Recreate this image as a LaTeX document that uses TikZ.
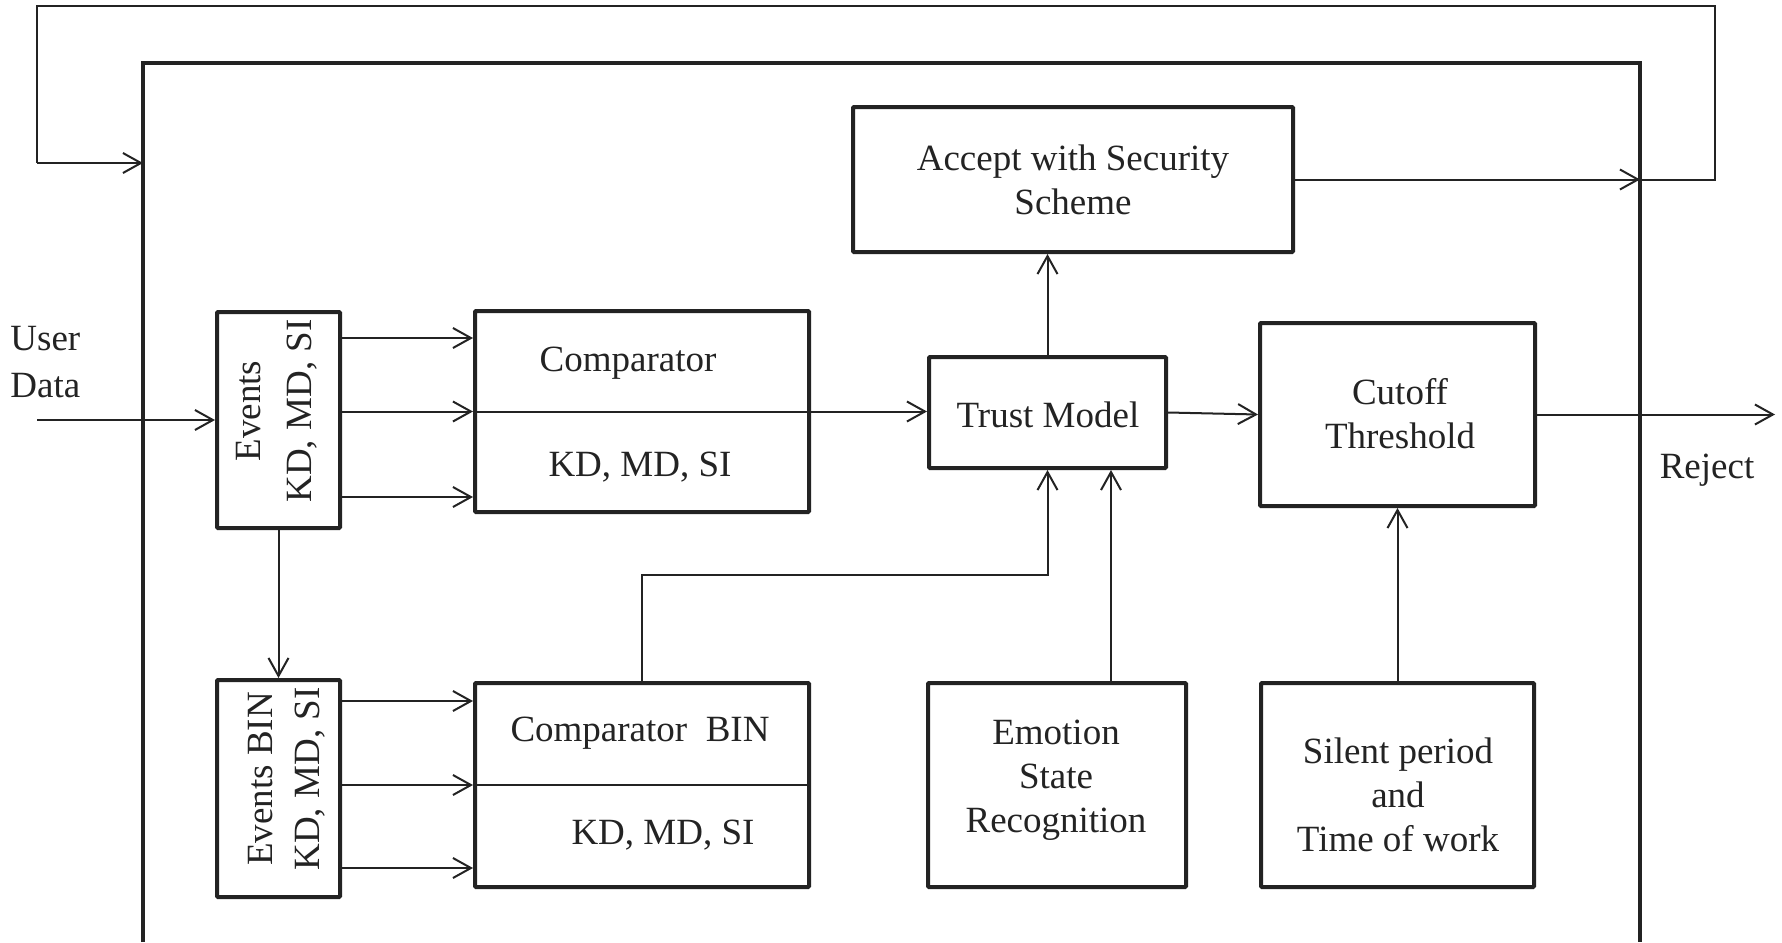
\documentclass[tikz,border=0pt]{standalone}
\usepackage{fontspec}
\setmainfont{Liberation Serif}
\usetikzlibrary{arrows.meta}
\definecolor{ink}{RGB}{35,35,35}
\begin{document}
\begin{tikzpicture}[x=0.5pt,y=-0.5pt,
  every node/.style={text=ink, font=\fontsize{18.5}{22}\selectfont},
  blk/.style={draw=ink, line width=2pt, inner sep=0pt, rounded corners=0.5pt},
  frame/.style={draw=ink, line width=2pt},
  conn/.style={draw=ink, line width=1pt},
  arr/.style={conn, -{Straight Barb[length=9pt,width=10pt]}},
  lbl/.style={align=center, inner sep=0pt},
]
\useasboundingbox (0,0) rectangle (1782,942);

% outer frame (open at the bottom)
\draw[frame] (143,942) -- (143,63) -- (1640,63) -- (1640,942);

% blocks
\node[blk, minimum width=61.5pt, minimum height=108pt] (ev) at (278.5,420) {};
\node[blk, minimum width=61.5pt, minimum height=108.5pt] (evb) at (278.5,788.5) {};
\node[blk, minimum width=167pt, minimum height=100.5pt] (comp) at (642,411.5) {};
\node[blk, minimum width=167pt, minimum height=102pt] (compb) at (642,785) {};
\node[blk, minimum width=220pt, minimum height=72.5pt] (acc) at (1073,179.5) {};
\node[blk, minimum width=118.5pt, minimum height=55.5pt] (trust) at (1047.5,412.5) {};
\node[blk, minimum width=137.5pt, minimum height=91.5pt] (cut) at (1397.5,414.5) {};
\node[blk, minimum width=129pt, minimum height=102pt] (emo) at (1057,785) {};
\node[blk, minimum width=136.5pt, minimum height=102pt] (sil) at (1397.5,785) {};

% texts
\node[lbl, rotate=90, font=\fontsize{18.5}{25.5}\selectfont] (tev) at (277,411) {Events\\KD, MD, SI};
\node[lbl, rotate=90, font=\fontsize{18.5}{23.5}\selectfont] (tevb) at (287,779) {Events BIN\\KD, MD, SI};
\node[lbl] (tcomp1) at (628,363) {Comparator};
\node[lbl] (tcomp2) at (640,467) {KD, MD, SI};
\node[lbl] (tcompb1) at (640,733) {Comparator\ \ BIN};
\node[lbl] (tcompb2) at (663,835) {KD, MD, SI};
\node[lbl] (tacc) at (1073,180) {Accept with Security\\Scheme};
\node[lbl] (ttrust) at (1048,415) {Trust Model};
\node[lbl] (tcut) at (1400,414) {Cutoff\\Threshold};
\node[lbl] (temo) at (1056,780) {Emotion\\State\\Recognition};
\node[lbl] (tsil) at (1398,795) {Silent period\\and\\Time of work};
\node[lbl, align=left, anchor=west, font=\fontsize{18.5}{23.5}\selectfont] (tuser) at (10,362) {User\\Data};
\node[lbl] (trej) at (1707,470) {Reject};

% helper coordinates
\coordinate (uin) at (37,420);
\coordinate (ya) at (0,338);
\coordinate (yb) at (0,497);
\coordinate (yc) at (0,701);
\coordinate (yd) at (0,868);
\coordinate (bend) at (0,575);
\coordinate (ex) at (1111,0);
\coordinate (rejout) at (1775,414.5);
\coordinate (fbA) at (1640,179.5);
\coordinate (fbR1) at (1715,179.5);
\coordinate (fbR2) at (1715,6);
\coordinate (fbL1) at (37,6);
\coordinate (fbL2) at (37,163);
\coordinate (fbin) at (143,163);

% connectors
\draw[arr] (uin) -- (ev.west);
\draw[arr] (ev.east |- ya) -- (comp.west |- ya);
\draw[arr] (ev.east |- comp.west) -- (comp.west);
\draw[conn] (comp.west) -- (comp.east);
\draw[arr] (comp.east) -- (trust.west |- comp.east);
\draw[arr] (ev.east |- yb) -- (comp.west |- yb);
\draw[arr] (ev.south) -- (evb.north);

\draw[arr] (evb.east |- yc) -- (compb.west |- yc);
\draw[arr] (evb.east |- compb.west) -- (compb.west);
\draw[conn] (compb.west) -- (compb.east);
\draw[arr] (evb.east |- yd) -- (compb.west |- yd);

\draw[arr] (compb.north) -- (compb.north |- bend) -- (trust.south |- bend) -- (trust.south);
\draw[arr] (ex |- emo.north) -- (ex |- trust.south);
\draw[arr] (trust.north) -- (trust.north |- acc.south);
\draw[arr] (trust.east) -- (cut.west);
\draw[arr] (cut.east) -- (rejout);
\draw[arr] (sil.north) -- (cut.south);

\draw[arr] (acc.east) -- (fbA);
\draw[conn] (fbA) -- (fbR1) -- (fbR2) -- (fbL1) -- (fbL2);
\draw[arr] (fbL2) -- (fbin);
\end{tikzpicture}
\end{document}
